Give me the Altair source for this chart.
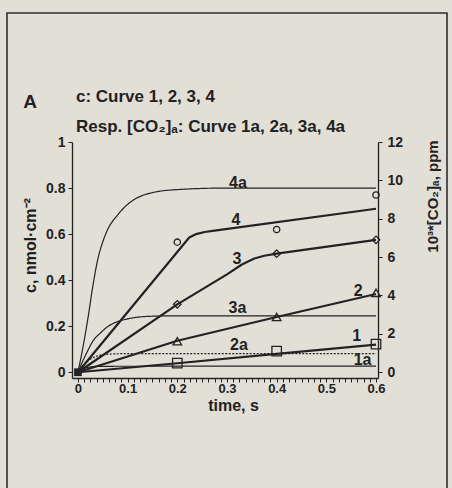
import altair as alt
import pandas as pd

FONT = "Liberation Sans"
INK = "#222222"
BG = "#e2dfd7"

# ---------------- data ----------------
# c curves (left axis, nmol/cm^2)
c1_t = [0, 0.2, 0.4, 0.6]
c1_v = [0, 0.039, 0.08, 0.12]
c2_t = [0, 0.2, 0.4, 0.6]
c2_v = [0, 0.137, 0.24, 0.34]
c3_t = [0, 0.2, 0.3, 0.33, 0.355, 0.375, 0.4, 0.6]
c3_v = [0, 0.295, 0.425, 0.468, 0.494, 0.506, 0.515, 0.575]
c4_t = [0, 0.224, 0.238, 0.255, 0.275, 0.6]
c4_v = [0, 0.585, 0.6, 0.609, 0.615, 0.71]

# measured points
m_t = [0.2, 0.4, 0.6]
m1_v = [0.04, 0.092, 0.122]
m2_v = [0.135, 0.24, 0.345]
m3_v = [0.295, 0.515, 0.575]
m4_v = [0.565, 0.62, 0.77]

# [CO2]a curves (right axis, 10^3 ppm)
a1_t = [0, 0.01, 0.02, 0.04, 0.6]
a1_v = [0, 0.17, 0.25, 0.31, 0.32]
a2_t = [0, 0.01, 0.02, 0.03, 0.04, 0.06, 0.1, 0.6]
a2_v = [0, 0.36, 0.6, 0.76, 0.86, 0.94, 0.97, 0.97]
a3_t = [0, 0.01, 0.02, 0.03, 0.045, 0.06, 0.08, 0.1, 0.12, 0.15, 0.2, 0.6]
a3_v = [0, 0.6, 1.14, 1.62, 2.04, 2.38, 2.64, 2.78, 2.87, 2.92, 2.94, 2.94]
a4_t = [0, 0.01, 0.02, 0.03, 0.04, 0.05, 0.06, 0.08, 0.1, 0.12, 0.15, 0.2, 0.3, 0.6]
a4_v = [0, 1.3, 2.8, 4.5, 5.9, 6.8, 7.45, 8.2, 8.75, 9.1, 9.36, 9.52, 9.6, 9.6]

# curve labels (positions in left-axis units)
lab_text = ["4a", "4", "3", "3a", "2", "1", "2a", "1a"]
lab_t = [0.322, 0.318, 0.32, 0.321, 0.564, 0.561, 0.324, 0.573]
lab_c = [0.822, 0.662, 0.493, 0.28, 0.352, 0.156, 0.12, 0.053]

panel_letter = ["A"]
title_lines = ["c: Curve 1, 2, 3, 4", "Resp. [CO₂]ₐ: Curve 1a, 2a, 3a, 4a"]

x_ticks = [round(i * 0.0125, 4) for i in range(49)]
y_left_ticks = [0, 0.2, 0.4, 0.6, 0.8, 1]
y_right_ticks = [0, 2, 4, 6, 8, 10, 12]

# ---------------- frames ----------------
lines_df = pd.concat([
    pd.DataFrame({"t": c1_t, "v": c1_v, "s": "1"}),
    pd.DataFrame({"t": c2_t, "v": c2_v, "s": "2"}),
    pd.DataFrame({"t": c3_t, "v": c3_v, "s": "3"}),
    pd.DataFrame({"t": c4_t, "v": c4_v, "s": "4"}),
])
pts_df = pd.concat([
    pd.DataFrame({"t": m_t, "v": m1_v, "s": "1"}),
    pd.DataFrame({"t": m_t, "v": m2_v, "s": "2"}),
    pd.DataFrame({"t": m_t, "v": m3_v, "s": "3"}),
    pd.DataFrame({"t": m_t, "v": m4_v, "s": "4"}),
])
origin_df = pd.DataFrame({"t": [0], "v": [0]})
a_df = pd.concat([
    pd.DataFrame({"t": a1_t, "v": a1_v, "s": "1a"}),
    pd.DataFrame({"t": a2_t, "v": a2_v, "s": "2a"}),
    pd.DataFrame({"t": a3_t, "v": a3_v, "s": "3a"}),
    pd.DataFrame({"t": a4_t, "v": a4_v, "s": "4a"}),
])
lab_df = pd.DataFrame({"t": lab_t, "v": lab_c, "txt": lab_text})

# ---------------- encodings ----------------
x_enc = alt.X(
    "t:Q",
    scale=alt.Scale(domain=[-0.012, 0.604], nice=False, zero=False),
    axis=alt.Axis(
        values=x_ticks,
        labelExpr="abs(datum.value*10 - round(datum.value*10)) < 0.001 ? format(datum.value, '~g') : ''",
        labelOverlap=False, labelFlush=False, grid=False,
        tickSize=4, tickWidth=1, tickColor=INK, domainColor=INK, domainWidth=1.3,
        labelFont=FONT, labelFontSize=13, labelFontWeight="bold", labelColor=INK,
        labelPadding=0,
        title="time, s", titleFont=FONT, titleFontSize=16, titleFontWeight="bold",
        titleColor=INK, titleX=161, titleY=27, titleBaseline="middle", titleAlign="center",
    ),
)

y_left_scale = alt.Scale(domain=[-0.025, 1], nice=False, zero=False)
y_left_axis = alt.Axis(
    values=y_left_ticks, format="~g", grid=False,
    tickSize=4, tickColor=INK, domainColor=INK, domainWidth=1.3,
    labelFont=FONT, labelFontSize=14, labelFontWeight="bold", labelColor=INK,
    labelPadding=3,
    title="c, nmol·cm⁻²", titleFont=FONT, titleFontSize=16, titleFontWeight="bold",
    titleColor=INK, titleAngle=270, titleX=-42, titleY=103,
    titleBaseline="middle", titleAlign="center",
)
y_left = alt.Y("v:Q", scale=y_left_scale, axis=y_left_axis)

y_right = alt.Y(
    "v:Q",
    scale=alt.Scale(domain=[-0.3, 12], nice=False, zero=False),
    axis=alt.Axis(
        orient="right", values=y_right_ticks, format="d", grid=False,
        tickSize=4, tickColor=INK, domainColor=INK, domainWidth=1.3,
        labelFont=FONT, labelFontSize=14, labelFontWeight="bold", labelColor=INK,
        labelPadding=5,
        title="10³*[CO₂]ₐ, ppm", titleFont=FONT, titleFontSize=15, titleFontWeight="bold",
        titleColor=INK, titleAngle=270, titleX=54, titleY=54,
        titleBaseline="middle", titleAlign="center",
    ),
)

# ---------------- layers ----------------
c_lines = alt.Chart(lines_df).mark_line(
    color=INK, strokeWidth=2.2, interpolate="linear", strokeJoin="round"
).encode(x=x_enc, y=y_left, detail="s:N")

c_points = alt.Chart(pts_df).mark_point(
    filled=False, color=INK, strokeWidth=1.3, opacity=1
).encode(
    x=x_enc, y=y_left,
    shape=alt.Shape("s:N", scale=alt.Scale(domain=["1", "2", "3", "4"],
                    range=["square", "triangle-up", "diamond", "circle"]), legend=None),
    size=alt.Size("s:N", scale=alt.Scale(domain=["1", "2", "3", "4"],
                  range=[90, 40, 55, 75]), legend=None),
)

origin = alt.Chart(origin_df).mark_point(
    shape="square", filled=True, color=INK, size=60, opacity=1
).encode(x=x_enc, y=y_left)

labels = alt.Chart(lab_df).mark_text(
    font=FONT, fontSize=16, fontWeight="bold", color=INK, baseline="middle", align="center"
).encode(x=x_enc, y=y_left, text="txt:N")

letter = alt.Chart(pd.DataFrame({"txt": panel_letter})).mark_text(
    font=FONT, fontSize=19, fontWeight="bold", color=INK, align="center", baseline="middle"
).encode(x=alt.value(-42), y=alt.value(-40), text="txt:N")

title1 = alt.Chart(pd.DataFrame({"txt": title_lines[:1]})).mark_text(
    font=FONT, fontSize=17, fontWeight="bold", color=INK, align="left", baseline="middle"
).encode(x=alt.value(4), y=alt.value(-45), text="txt:N")

title2 = alt.Chart(pd.DataFrame({"txt": title_lines[1:]})).mark_text(
    font=FONT, fontSize=17, fontWeight="bold", color=INK, align="left", baseline="middle"
).encode(x=alt.value(4), y=alt.value(-15), text="txt:N")

frame = alt.Chart(pd.DataFrame({"k": [0]})).mark_rect(
    fill=None, stroke="#2e2e2e", strokeWidth=1.6
).encode(x=alt.value(-65), x2=alt.value(375), y=alt.value(-129), y2=alt.value(400))

left = alt.layer(frame, c_lines, c_points, origin, labels, letter, title1, title2)

a_lines = alt.Chart(a_df).mark_line(
    color=INK, strokeWidth=1.2, interpolate="monotone"
).encode(
    x=x_enc, y=y_right, detail="s:N",
    strokeDash=alt.StrokeDash("s:N", scale=alt.Scale(domain=["1a", "2a", "3a", "4a"],
                              range=[[1, 0], [2, 1.5], [1, 0], [1, 0]]), legend=None),
)

chart = alt.layer(left, a_lines).resolve_scale(y="independent").properties(
    width=306, height=236,
    autosize=alt.AutoSizeParams(type="none"),
    padding={"left": 72, "top": 142, "right": 74, "bottom": 110},
    background=BG,
).configure_view(stroke=None)

chart.save("out.html", embed_options={"renderer": "svg", "actions": False})
